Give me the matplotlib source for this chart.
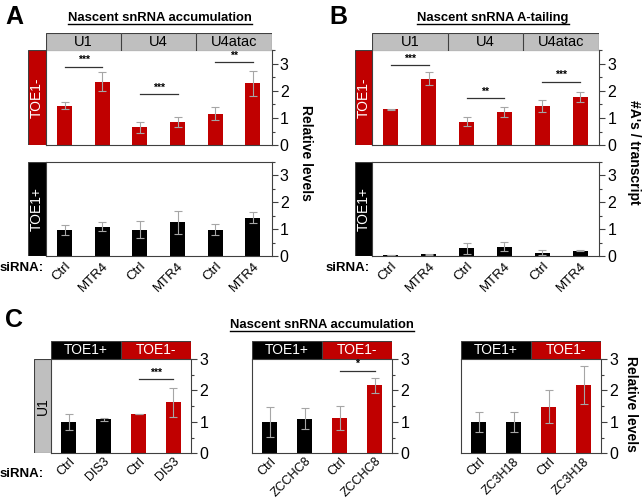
import matplotlib
matplotlib.use("Agg")
import matplotlib.pyplot as plt
from matplotlib.patches import Rectangle
from matplotlib.ticker import MultipleLocator

plt.rcParams['font.family'] = ['Liberation Sans', 'DejaVu Sans']

W, H = 642, 499
RED = '#c00000'
GRAY_HDR = '#bfbfbf'
ERR = '#a6a6a6'
SPINE = '#404040'

# ---- data ----
sirna_a = ['Ctrl', 'MTR4', 'Ctrl', 'MTR4', 'Ctrl', 'MTR4']
genes = ['U1', 'U4', 'U4atac']

a_toe1neg = [1.45, 2.34, 0.65, 0.86, 1.15, 2.28]
a_toe1neg_err = [0.13, 0.35, 0.22, 0.19, 0.24, 0.46]
a_toe1pos = [0.97, 1.09, 0.98, 1.26, 0.98, 1.42]
a_toe1pos_err = [0.17, 0.16, 0.32, 0.43, 0.20, 0.20]
a_sig = [(0, 1, 2.9, '***'), (2, 3, 1.88, '***'), (4, 5, 3.07, '**')]

b_toe1neg = [1.33, 2.46, 0.86, 1.21, 1.44, 1.78]
b_toe1neg_err = [0.02, 0.23, 0.17, 0.19, 0.22, 0.17]
b_toe1pos = [0.03, 0.06, 0.28, 0.35, 0.13, 0.19]
b_toe1pos_err = [0.01, 0.02, 0.19, 0.16, 0.09, 0.02]
b_sig = [(0, 1, 2.95, '***'), (2, 3, 1.73, '**'), (4, 5, 2.35, '***')]

c_labels = [['Ctrl', 'DIS3', 'Ctrl', 'DIS3'],
            ['Ctrl', 'ZCCHC8', 'Ctrl', 'ZCCHC8'],
            ['Ctrl', 'ZC3H18', 'Ctrl', 'ZC3H18']]
c_vals = [[1.0, 1.08, 1.25, 1.62],
          [1.0, 1.10, 1.12, 2.16],
          [1.0, 1.0, 1.48, 2.18]]
c_errs = [[0.25, 0.04, 0.01, 0.45],
          [0.48, 0.33, 0.38, 0.23],
          [0.31, 0.31, 0.53, 0.60]]
c_sig = [(2, 3, 2.36, '***'), (2, 3, 2.63, '*'), None]

fig = plt.figure(figsize=(W / 100, H / 100), dpi=100)
renderer = fig.canvas.get_renderer()


def rect(x0, y0, x1, y1):
    return [x0 / W, 1 - y1 / H, (x1 - x0) / W, (y1 - y0) / H]


def fx(x):
    return x / W


def fy(y):
    return 1 - y / H


def title(xc, y, text):
    t = fig.text(fx(xc), fy(y), text, fontsize=9.4, fontweight='bold',
                 ha='center', va='baseline')
    bb = t.get_window_extent(renderer=renderer)
    fig.add_artist(plt.Line2D([bb.x0 / W, bb.x1 / W], [fy(y + 3), fy(y + 3)],
                              color='black', lw=1.0))


def box(x0, y0, x1, y1, color, text, rot=0, tcolor='black', size=10.5):
    ax = fig.add_axes(rect(x0, y0, x1, y1))
    ax.set_xlim(0, 1)
    ax.set_ylim(0, 1)
    ax.add_patch(Rectangle((0, 0), 1, 1, facecolor=color, edgecolor=SPINE, lw=0.8))
    ax.text(0.5, 0.5, text, rotation=rot, ha='center', va='center',
            color=tcolor, fontsize=size)
    ax.axis('off')
    return ax


def bar_axes(r, vals, errs, colors, ymax, labels=None, sig=None, width=0.4,
             xsize=9.5, xpad=3):
    ax = fig.add_axes(r)
    x = range(len(vals))
    ax.bar(x, vals, width=width, color=colors, zorder=2)
    ax.errorbar(x, vals, yerr=errs, fmt='none', ecolor=ERR, elinewidth=0.8,
                capsize=3, capthick=0.8, zorder=3)
    ax.set_xlim(-0.5, len(vals) - 0.5)
    ax.set_ylim(0, ymax)
    ax.yaxis.tick_right()
    ax.yaxis.set_major_locator(MultipleLocator(1))
    ax.yaxis.set_minor_locator(MultipleLocator(0.5))
    ax.tick_params(axis='y', which='major', length=4, width=0.8, labelsize=11.5,
                   color=SPINE, pad=2)
    ax.tick_params(axis='y', which='minor', length=2.5, width=0.8, color=SPINE)
    for s in ax.spines.values():
        s.set_color(SPINE)
        s.set_linewidth(0.8)
    if labels is None:
        ax.set_xticks([])
    else:
        ax.set_xticks(list(x))
        ax.set_xticklabels(labels, rotation=45, ha='right', rotation_mode='anchor',
                           fontsize=xsize)
        ax.tick_params(axis='x', length=0, pad=xpad)
    if sig:
        for s in sig:
            if s is None:
                continue
            i, j, y, t = s
            ax.plot([i, j], [y, y], color='#333333', lw=0.9, zorder=4)
            ax.text((i + j) / 2, y + ymax * 0.015, t, ha='center', va='bottom',
                    fontsize=7.5, fontweight='bold')
    return ax


# ---------------- Panel A ----------------
fig.text(fx(5), fy(24), 'A', fontsize=18, fontweight='bold', va='baseline')
title(160, 21, 'Nascent snRNA accumulation')

bar_axes(rect(46, 50.5, 271.5, 145), a_toe1neg, a_toe1neg_err, RED, 3.5, sig=a_sig)
bar_axes(rect(46, 162, 271.5, 256), a_toe1pos, a_toe1pos_err, 'black', 3.5, labels=sirna_a)
hx = [46, 121, 196, 271.5]
for k, g in enumerate(genes):
    box(hx[k], 32.5, hx[k + 1], 50.5, GRAY_HDR, g)
box(28, 50.5, 46, 145, RED, 'TOE1-', rot=90, tcolor='white', size=10)
box(28, 162, 46, 256, 'black', 'TOE1+', rot=90, tcolor='white', size=10)
fig.text(fx(0), fy(271), 'siRNA:', fontsize=9.5, fontweight='bold', va='baseline')
fig.text(fx(306), fy(153), 'Relative levels', fontsize=10, fontweight='bold',
         rotation=270, ha='center', va='center')

# ---------------- Panel B ----------------
fig.text(fx(329), fy(24), 'B', fontsize=18, fontweight='bold', va='baseline')
title(493, 21, 'Nascent snRNA A-tailing')

bar_axes(rect(372, 50.5, 599, 145), b_toe1neg, b_toe1neg_err, RED, 3.5, sig=b_sig)
bar_axes(rect(372, 162, 599, 256), b_toe1pos, b_toe1pos_err, 'black', 3.5, labels=sirna_a)
hx = [372, 448, 523, 599]
for k, g in enumerate(genes):
    box(hx[k], 33, hx[k + 1], 50.5, GRAY_HDR, g)
box(355, 50.5, 372, 145, RED, 'TOE1-', rot=90, tcolor='white', size=10)
box(355, 162, 372, 256, 'black', 'TOE1+', rot=90, tcolor='white', size=10)
fig.text(fx(326), fy(271), 'siRNA:', fontsize=9.5, fontweight='bold', va='baseline')
fig.text(fx(634), fy(152), "#A's / transcript", fontsize=10, fontweight='bold',
         rotation=270, ha='center', va='center')

# ---------------- Panel C ----------------
fig.text(fx(5), fy(327), 'C', fontsize=18, fontweight='bold', va='baseline')
title(322, 328, 'Nascent snRNA accumulation')

c_x = [(51, 191), (252, 392), (461, 601)]
c_colors = ['black', 'black', RED, RED]
for k in range(3):
    x0, x1 = c_x[k]
    bar_axes(rect(x0, 359, x1, 453.3), c_vals[k], c_errs[k], c_colors, 3,
             labels=c_labels[k], sig=[c_sig[k]], width=0.41, xsize=9, xpad=1.5)
    xm = (x0 + x1) / 2
    box(x0, 341, xm, 359, 'black', 'TOE1+', tcolor='white', size=10)
    box(xm, 341, x1, 359, RED, 'TOE1-', tcolor='white', size=10)
box(34, 359, 51, 453.3, GRAY_HDR, 'U1', rot=90, size=10)
fig.text(fx(0), fy(477), 'siRNA:', fontsize=9.5, fontweight='bold', va='baseline')
fig.text(fx(631), fy(404), 'Relative levels', fontsize=10, fontweight='bold',
         rotation=270, ha='center', va='center')

fig.savefig('out.png', dpi=100)
